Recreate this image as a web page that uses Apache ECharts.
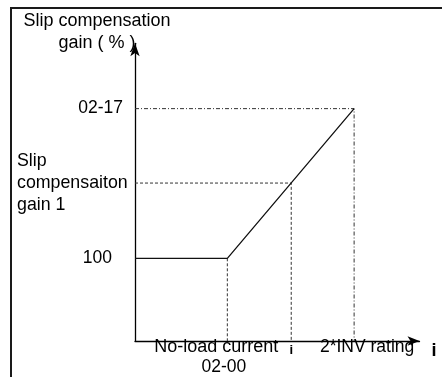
<!DOCTYPE html>
<html><head><meta charset="utf-8">
<script src="https://cdn.jsdelivr.net/npm/echarts@6/dist/echarts.min.js"></script>
<style>html,body{margin:0;padding:0;background:#fff}#c{width:442px;height:377px}</style>
</head><body><div id="c"></div>
<script>
// x positions (relative current units) of the key points
const xKeyNames = ['No-load current', 'i', '2*INV rating'];
const xKeyValues = [92.5, 156.5, 219.5];
const xTickLabels = ['No-load current\n02-00', 'i', '2*INV rating'];
// y values (slip compensation gain, %)
const yKeyNames = ['base', 'Slip compensaiton gain 1', '02-17'];
const yKeyValues = [100, 191, 281];
const yTickLabels = ['100', 'Slip\ncompensaiton\ngain 1', '02-17'];
// gain curve
const curveX = [0, 92.5, 219.5];
const curveY = [100, 100, 281];
const xMax = 285, yMax = 360;

const FONT = 'Liberation Sans, Arial, sans-serif';
const noLoadX = xKeyValues[0], iX = xKeyValues[1], ratingX = xKeyValues[2];
const gainBase = yKeyValues[0], gain1 = yKeyValues[1], gainMax = yKeyValues[2];

const baseX = {
  type: 'value', min: 0, max: xMax, position: 'bottom',
  splitLine: {show: false}, axisTick: {show: false}
};
function labelAxis(k, margin, fontSize, weight, rich) {
  return Object.assign({}, baseX, {
    axisLine: {show: false},
    axisLabel: {
      show: true, customValues: [xKeyValues[k]], margin: margin, hideOverlap: false,
      showMinLabel: true, showMaxLabel: true,
      fontFamily: FONT, fontSize: fontSize, fontWeight: weight, color: '#000',
      formatter: function () {
        if (!rich) return xTickLabels[k];
        return xTickLabels[k].split('\n').map((s, j) => '{' + rich.keys[j] + '|' + s + '}').join('\n');
      },
      rich: rich ? rich.styles : undefined
    }
  });
}

const chart = echarts.init(document.getElementById('c'), null, {renderer: 'canvas'});
chart.setOption({
  animation: false,
  backgroundColor: '#fff',
  grid: {left: 135, right: 22.5, top: 43.3, bottom: 36, containLabel: false},
  graphic: [{
    type: 'polyline', shape: {points: [[11, 377], [11, 8], [442, 8]]},
    style: {stroke: '#1a1a1a', lineWidth: 2, fill: null}, silent: true
  }],
  xAxis: [
    Object.assign({}, baseX, {
      axisLine: {show: true, onZero: false, symbol: ['none', 'arrow'], symbolSize: [7, 12],
        lineStyle: {color: '#000', width: 1.3}},
      axisLabel: {show: false},
      name: 'i', nameLocation: 'end', nameGap: 12,
      nameTextStyle: {fontFamily: FONT, fontSize: 18, fontWeight: 'bold', color: '#000',
        verticalAlign: 'top', align: 'left', padding: [1, 0, 0, 0]}
    }),
    labelAxis(0, -4, 18, 'normal', {keys: ['a', 'b'], styles: {
      a: {fontFamily: FONT, fontSize: 18, lineHeight: 20, padding: [0, 22, 0, 0], color: '#000'},
      b: {fontFamily: FONT, fontSize: 17.5, lineHeight: 20, padding: [0, 7, 0, 0], color: '#000'}
    }}),
    labelAxis(1, 3, 13, 'bold', null),
    labelAxis(2, -4, 17.5, 'normal', {keys: ['d'], styles: {
      d: {fontFamily: FONT, fontSize: 17.5, lineHeight: 20, padding: [0, 0, 0, 26], color: '#000'}
    }})
  ],
  yAxis: {
    type: 'value', min: 0, max: yMax,
    splitLine: {show: false}, axisTick: {show: false},
    axisLine: {show: true, onZero: false, symbol: ['none', 'arrow'], symbolSize: [7, 13],
      lineStyle: {color: '#000', width: 1.3}},
    name: 'Slip compensation\ngain ( % )', nameLocation: 'end', nameGap: -11,
    nameTextStyle: {fontFamily: FONT, fontSize: 18, lineHeight: 22, color: '#000',
      align: 'center', verticalAlign: 'bottom', padding: [0, 76, 0, 0]},
    axisLabel: {
      show: true, customValues: yKeyValues, margin: 7, hideOverlap: false,
      showMinLabel: true, showMaxLabel: true,
      fontFamily: FONT, fontSize: 17.5, color: '#000',
      formatter: function (v) {
        const k = yKeyValues.indexOf(v);
        if (k === 0) return '{p|' + yTickLabels[0] + '}';
        if (k === 1) return yTickLabels[1].split('\n').map(s => '{g|' + s + '}').join('\n');
        if (k === 2) return '{q|' + yTickLabels[2] + '}';
        return '';
      },
      rich: {
        p: {fontFamily: FONT, fontSize: 17.5, padding: [0, 16, 0, 0], color: '#000'},
        q: {fontFamily: FONT, fontSize: 17.5, padding: [0, 5, 0, 0], color: '#000'},
        g: {fontFamily: FONT, fontSize: 17.8, lineHeight: 22, width: 111, align: 'left', color: '#000'}
      }
    }
  },
  series: [
    {type: 'line', symbol: 'none', data: curveX.map((x, i) => [x, curveY[i]]),
      lineStyle: {color: '#111', width: 1.3}, z: 5},
    {type: 'line', symbol: 'none', data: [[0, gainMax], [ratingX, gainMax], [ratingX, 0]],
      lineStyle: {color: '#333', width: 1, type: [4, 2, 1, 2]}},
    {type: 'line', symbol: 'none', data: [[0, gain1], [iX, gain1], [iX, 0]],
      lineStyle: {color: '#333', width: 1, type: [3, 2]}},
    {type: 'line', symbol: 'none', data: [[noLoadX, gainBase], [noLoadX, 0]],
      lineStyle: {color: '#333', width: 1, type: [3, 2]}}
  ]
});
</script></body></html>
